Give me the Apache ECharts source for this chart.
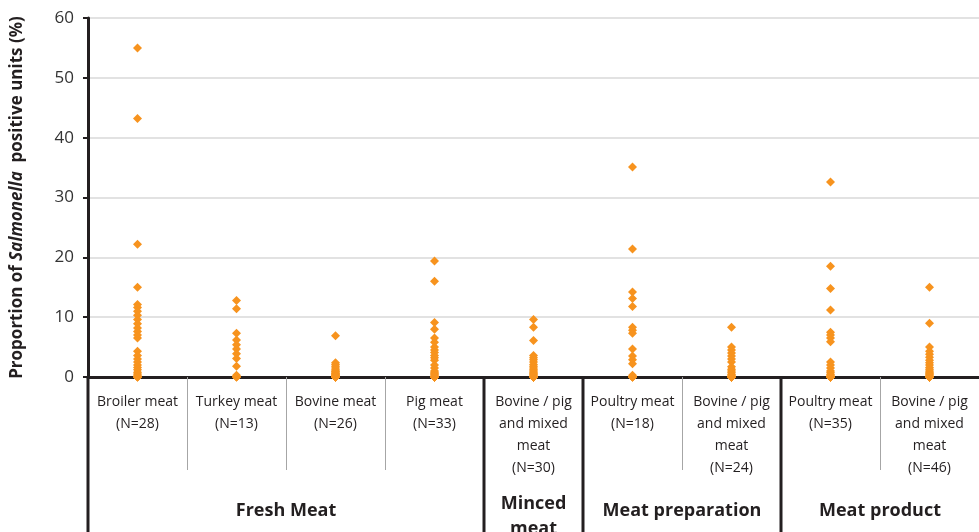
<!DOCTYPE html>
<html>
<head>
<meta charset="utf-8">
<script src="https://cdn.jsdelivr.net/npm/echarts@6/dist/echarts.min.js"></script>
<style>
html,body{margin:0;padding:0;background:#fff;}
#chart{width:979px;height:532px;}
</style>
</head>
<body>
<div id="chart"></div>
<script>
// ---- Data ----
const categories = [
  'Broiler meat\n(N=28)',
  'Turkey meat\n(N=13)',
  'Bovine meat\n(N=26)',
  'Pig meat\n(N=33)',
  'Bovine / pig\nand mixed\nmeat\n(N=30)',
  'Poultry meat\n(N=18)',
  'Bovine / pig\nand mixed\nmeat\n(N=24)',
  'Poultry meat\n(N=35)',
  'Bovine / pig\nand mixed\nmeat\n(N=46)'
];
const groupNames = ['Fresh Meat', 'Minced\nmeat', 'Meat preparation', 'Meat product'];
const groupStart = [0, 4, 5, 7];
const groupEnd = [3, 4, 6, 8];

const freshBroiler = [55.0, 43.2, 22.2, 15.0, 12.1, 11.6, 11.0, 10.3, 9.6, 8.9, 8.2, 7.6, 7.0, 6.5, 4.3, 3.6, 3.0, 2.5, 2.0, 1.6, 1.2, 0.8, 0.5, 0.3, 0, 0, 0, 0];
const freshTurkey = [12.8, 11.4, 7.3, 6.2, 5.4, 4.7, 3.9, 3.1, 1.8, 0.3, 0, 0, 0];
const freshBovine = [6.9, 2.4, 2.1, 1.8, 1.5, 1.2, 1.0, 0.9, 0.7, 0.6, 0.5, 0.4, 0.3, 0.2, 0.1, 0, 0, 0, 0, 0, 0, 0, 0, 0, 0, 0];
const freshPig = [19.4, 16.0, 9.1, 8.0, 6.5, 5.8, 5.0, 4.5, 4.1, 3.6, 3.2, 2.8, 2.0, 1.5, 1.0, 0.8, 0.6, 0.4, 0.2, 0, 0, 0, 0, 0, 0, 0, 0, 0, 0, 0, 0, 0, 0];
const mincedMixed = [9.6, 8.3, 6.1, 3.6, 3.2, 2.9, 2.5, 2.1, 1.8, 1.5, 1.2, 1.0, 0.8, 0.6, 0.4, 0.2, 0, 0, 0, 0, 0, 0, 0, 0, 0, 0, 0, 0, 0, 0];
const prepPoultry = [35.1, 21.4, 14.2, 13.1, 11.8, 8.3, 7.8, 7.3, 4.7, 3.5, 2.9, 2.2, 0.3, 0, 0, 0, 0, 0];
const prepMixed = [8.3, 5.0, 4.5, 4.0, 3.5, 3.0, 2.5, 1.7, 1.3, 1.0, 0.7, 0.4, 0.2, 0, 0, 0, 0, 0, 0, 0, 0, 0, 0, 0];
const productPoultry = [32.6, 18.5, 14.8, 11.2, 7.5, 7.0, 6.5, 5.9, 2.5, 2.0, 1.5, 1.0, 0.7, 0.4, 0.2, 0, 0, 0, 0, 0, 0, 0, 0, 0, 0, 0, 0, 0, 0, 0, 0, 0, 0, 0, 0];
const productMixed = [15.0, 9.0, 5.0, 4.3, 3.8, 3.3, 2.8, 2.4, 2.0, 1.6, 1.3, 1.0, 0.8, 0.6, 0.4, 0.2, 0, 0, 0, 0, 0, 0, 0, 0, 0, 0, 0, 0, 0, 0, 0, 0, 0, 0, 0, 0, 0, 0, 0, 0, 0, 0, 0, 0, 0, 0];

const yTicks = [0, 10, 20, 30, 40, 50, 60];

// ---- Build ----
const columns = [freshBroiler, freshTurkey, freshBovine, freshPig, mincedMixed, prepPoultry, prepMixed, productPoultry, productMixed];
const points = [];
columns.forEach((col, i) => col.forEach(v => points.push([i, v])));

const FONT = '"Open Sans", "Noto Sans", sans-serif';
const DARK = '#231f20';

const chart = echarts.init(document.getElementById('chart'), null, {renderer: 'canvas'});
chart.setOption({
  animation: false,
  backgroundColor: '#ffffff',
  grid: {left: 88, right: 0, top: 18, bottom: 155, containLabel: false, outerBoundsMode: 'none'},
  xAxis: {
    type: 'category',
    data: categories,
    boundaryGap: true,
    axisLine: {show: true, lineStyle: {color: DARK, width: 3}},
    axisTick: {show: true, interval: 0, length: 93, lineStyle: {color: '#a6a6a6', width: 1}},
    axisLabel: {
      interval: 0, margin: 14, color: DARK, fontFamily: FONT, fontSize: 14,
      lineHeight: 22, verticalAlign: 'top', align: 'center'
    },
    splitLine: {show: false}
  },
  yAxis: {
    type: 'value',
    min: yTicks[0], max: yTicks[yTicks.length - 1], interval: 10,
    axisLine: {show: true, lineStyle: {color: DARK, width: 3}},
    axisTick: {show: true, length: 5, lineStyle: {color: DARK, width: 2}},
    axisLabel: {color: '#333', fontFamily: FONT, fontSize: 17, margin: 14},
    splitLine: {show: true, lineStyle: {color: '#d9d9d9', width: 1.5}},
    name: '{b|Proportion of }{i|Salmonella}{b|  positive units (%)}',
    nameLocation: 'middle',
    nameGap: 62,
    nameRotate: 90,
    nameTextStyle: {
      rich: {
        b: {fontFamily: FONT, fontSize: 17, fontWeight: 'bold', color: DARK},
        i: {fontFamily: FONT, fontSize: 17, fontWeight: 'bold', fontStyle: 'italic', color: DARK}
      }
    }
  },
  series: [{
    type: 'scatter',
    data: points,
    symbol: 'diamond',
    symbolSize: 9,
    itemStyle: {color: '#f7931e', opacity: 1},
    z: 5,
    clip: false
  }]
});

// group separators and labels positioned through the category scale
function drawGroups() {
  const elements = [];
  const bottomY = 532;
  const axisY = chart.convertToPixel({yAxisIndex: 0}, 0);
  const step = chart.convertToPixel({xAxisIndex: 0}, 1) - chart.convertToPixel({xAxisIndex: 0}, 0);
  groupNames.forEach((name, g) => {
    const xs = chart.convertToPixel({xAxisIndex: 0}, groupStart[g]);
    const xe = chart.convertToPixel({xAxisIndex: 0}, groupEnd[g]);
    const left = xs - step / 2;
    elements.push({
      type: 'line', silent: true, z: 10,
      shape: {x1: left, y1: axisY, x2: left, y2: bottomY},
      style: {stroke: DARK, lineWidth: 3}
    });
    const multi = name.indexOf('\n') >= 0;
    elements.push({
      type: 'text', silent: true, z: 10,
      x: (xs + xe) / 2, y: multi ? 491 : 511,
      style: {
        text: name, fill: DARK, font: 'bold 18px ' + FONT,
        align: 'center', verticalAlign: multi ? 'top' : 'middle', lineHeight: 25
      }
    });
  });
  chart.setOption({graphic: {elements: elements}});
}
drawGroups();
</script>
</body>
</html>
